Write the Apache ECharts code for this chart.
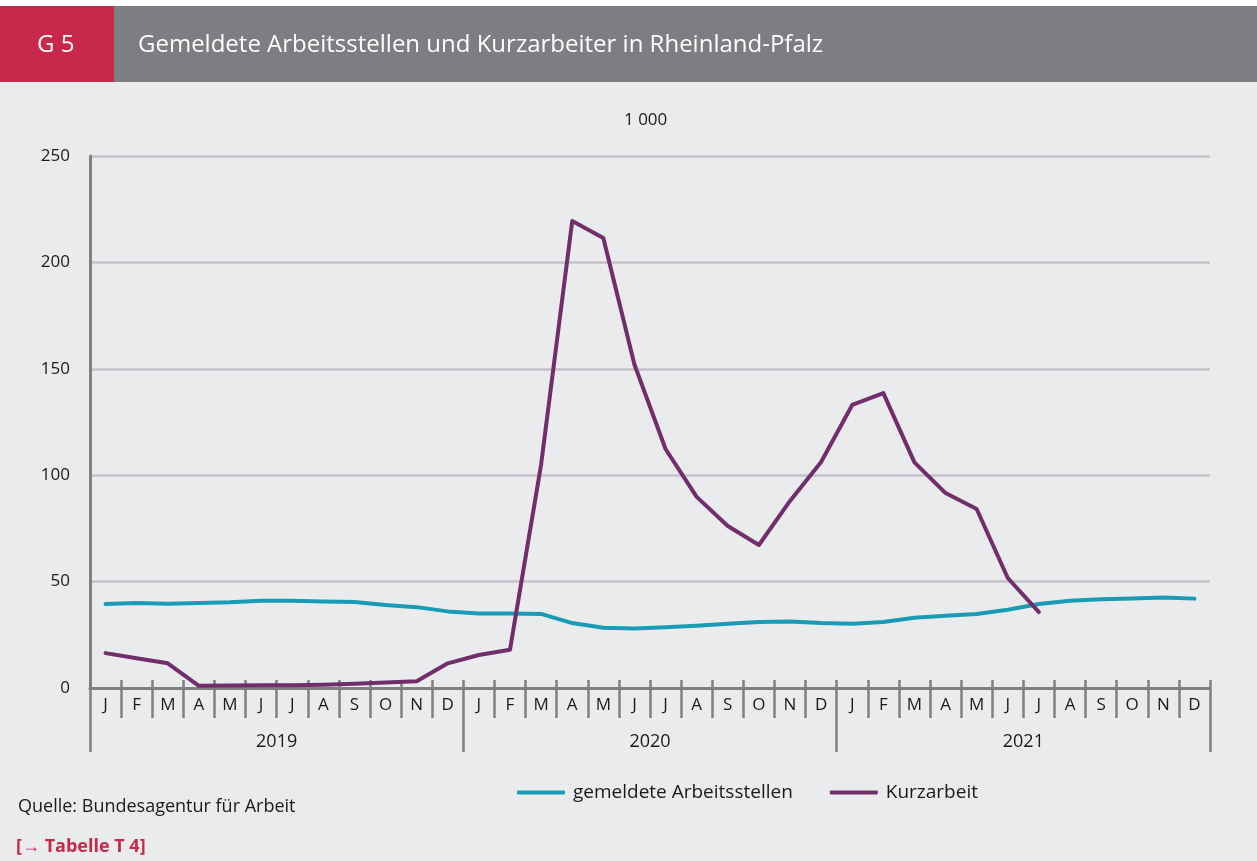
<!DOCTYPE html>
<html><head><meta charset="utf-8">
<script src="https://cdn.jsdelivr.net/npm/echarts@6/dist/echarts.min.js"></script>
<style>html,body{margin:0;padding:0;background:#fff}#c{width:1257px;height:861px}</style>
</head><body><div id="c"></div>
<script>
const months = ['J','F','M','A','M','J','J','A','S','O','N','D','J','F','M','A','M','J','J','A','S','O','N','D','J','F','M','A','M','J','J','A','S','O','N','D'];
const years = ['2019','2020','2021'];
const yTicks = [0,50,100,150,200,250];
const arbeitsstellen = [39.5,40,39.6,40,40.3,41,41,40.6,40.4,39,38,36,35,35,34.8,30.5,28.3,28,28.5,29.3,30.2,31,31.2,30.5,30.2,31,33,34,34.8,36.8,39.5,41,41.7,42.1,42.5,42];
const kurzarbeit = [16.4,14,11.6,1,1.2,1.3,1.3,1.5,2,2.6,3.2,11.6,15.5,18,105,219.5,211.5,152,112.3,89.8,76.1,67.2,87.9,106.2,133,138.6,106,91.6,84.1,51.7,35.7];
const seriesNames = ['gemeldete Arbeitsstellen','Kurzarbeit'];

const FONT = '"Open Sans", "Noto Sans", sans-serif';
const GRAY = '#808083';
const chart = echarts.init(document.getElementById('c'));
chart.setOption({
  backgroundColor: '#ffffff',
  animation: false,
  textStyle: {fontFamily: FONT},
  graphic: [
    {type:'rect', z:-10, shape:{x:0,y:82,width:1257,height:779}, style:{fill:'#eaebed'}},
    {type:'rect', z:-10, shape:{x:0,y:6,width:114,height:76}, style:{fill:'#c8294a'}},
    {type:'rect', z:-10, shape:{x:114,y:6,width:1143,height:76}, style:{fill:'#7d7e82'}},
    {type:'text', left:37, top:33, style:{text:'G 5', fill:'#fff', font:'24px '+FONT}},
    {type:'text', left:138, top:33, style:{text:'Gemeldete Arbeitsstellen und Kurzarbeiter in Rheinland-Pfalz', fill:'#fff', font:'24px '+FONT}},
    {type:'text', left:624, top:112, style:{text:'1 000', fill:'#1a1a1a', font:'17px '+FONT}},
    {type:'text', left:18, top:798, style:{text:'Quelle: Bundesagentur für Arbeit', fill:'#1a1a1a', font:'18px '+FONT}},
    {type:'text', left:16, top:838, style:{text:'[→ Tabelle T 4]', fill:'#c8294a', font:'bold 18px '+FONT}}
  ],
  legend: {
    data: seriesNames, left: 512, top: 778, icon: 'roundRect', itemWidth: 48, itemHeight: 4, itemGap: 37,
    textStyle: {fontSize: 19, color: '#1a1a1a', fontFamily: FONT, padding:[0,0,0,3]}
  },
  grid: {left: 90, right: 47, top: 156, bottom: 173},
  xAxis: [
    {type:'category', data: months, boundaryGap:true, position:'bottom',
     axisLine:{show:true, lineStyle:{color:GRAY, width:3}},
     axisTick:{show:true, interval:0, length:30, lineStyle:{color:GRAY, width:2.5}},
     axisLabel:{interval:0, margin:9, fontSize:17, color:'#1a1a1a', fontFamily:FONT},
     splitLine:{show:false}},
    {type:'category', data: months, boundaryGap:true, position:'bottom',
     axisLine:{show:false},
     axisTick:{show:true, inside:true, interval:0, length:8, lineStyle:{color:GRAY, width:2.5}},
     axisLabel:{show:false}, splitLine:{show:false}},
    {type:'category', data: years, boundaryGap:true, position:'bottom',
     axisLine:{show:false},
     axisTick:{show:true, interval:0, length:64, lineStyle:{color:GRAY, width:2.5}},
     axisLabel:{interval:0, margin:45, fontSize:18, color:'#1a1a1a', fontFamily:FONT},
     splitLine:{show:false}}
  ],
  yAxis: {type:'value', min: yTicks[0], max: yTicks[yTicks.length-1], interval: 50,
    axisLine:{show:true, lineStyle:{color:GRAY, width:3}},
    axisTick:{show:false},
    axisLabel:{margin:20, fontSize:17, color:'#1a1a1a', fontFamily:FONT},
    splitLine:{show:true, lineStyle:{color:'#c2c3c7', width:2.5}}
  },
  series: [
    {name: seriesNames[0], type:'line', data: arbeitsstellen, xAxisIndex:0, symbol:'none',
     lineStyle:{color:'#1a9bb5', width:4, cap:'round', join:'round'}, itemStyle:{color:'#1a9bb5'}},
    {name: seriesNames[1], type:'line', data: kurzarbeit, xAxisIndex:0, symbol:'none',
     lineStyle:{color:'#722e6b', width:4, cap:'round', join:'round'}, itemStyle:{color:'#722e6b'}}
  ]
});
</script></body></html>
